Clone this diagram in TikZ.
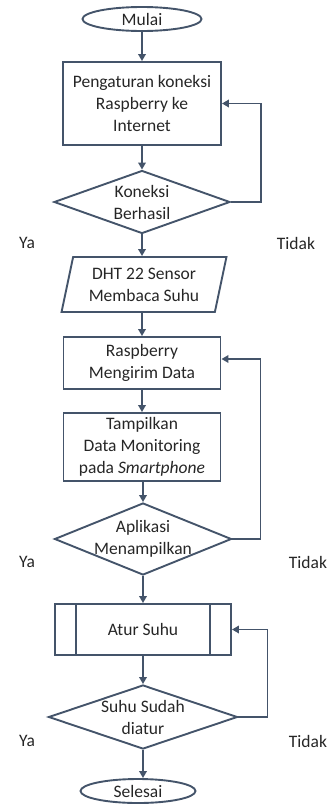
\documentclass[tikz,border=0pt]{standalone}
\usepackage{fontspec}
\setmainfont{Carlito}
\usetikzlibrary{shapes.geometric,arrows.meta}
\definecolor{lineblue}{RGB}{68,84,106}

\begin{document}
\begin{tikzpicture}[x=1pt,y=-1pt,
    every node/.style={font=\fontsize{17.5}{22}\selectfont, text=black!85},
    flow/.style={draw=lineblue, line width=1.9pt},
    box/.style={flow, rectangle, align=center, inner sep=0pt},
    term/.style={flow, ellipse, inner sep=0pt, minimum height=24pt},
    cond/.style={flow, diamond, inner sep=0pt},
    io/.style={flow, trapezium, trapezium left angle=76, trapezium right angle=104,
      trapezium stretches=true, align=center, inner sep=2pt},
    >={Triangle[length=7pt,width=7.5pt]}]
    \useasboundingbox (0,0) rectangle (329,806);
    \node[term, minimum width=119pt] (A) at (142,19) {Mulai};
    \node[box, minimum width=158pt, minimum height=83pt] (B) at (142,103.5) {Pengaturan koneksi\\Raspberry ke\\Internet};
    \node[cond, minimum width=176pt, minimum height=63pt, label={[align=center]center:Koneksi\\Berhasil}] (C) at (142,202) {};
    \node[io, minimum width=165pt, minimum height=55pt] (D) at (144,284.5) {DHT 22 Sensor\\Membaca Suhu};
    \node[box, minimum width=157pt, minimum height=52pt] (E) at (142,363) {Raspberry\\Mengirim Data};
    \node[box, minimum width=157pt, minimum height=68pt] (F) at (142,447) {Tampilkan\\Data Monitoring\\pada \textit{Smartphone}};
    \node[cond, minimum width=177pt, minimum height=72pt, label={[align=center]center:Aplikasi\\Menampilkan}] (G) at (143,539) {};
    \node[box, minimum width=176pt, minimum height=51pt] (H) at (143,629.5) {Atur Suhu};
    \node[cond, minimum width=189pt, minimum height=64pt, label={[align=center]center:Suhu Sudah\\diatur}] (I) at (143,717) {};
    \node[term, minimum width=115pt] (J) at (138,791) {Selesai};
    % sub-process bars
    \draw[flow] ([xshift=22pt]H.north west) -- ([xshift=22pt]H.south west);
    \draw[flow] ([xshift=-22pt]H.north east) -- ([xshift=-22pt]H.south east);
    % Ya / Tidak
    \node (Y1) at (27,243) {Ya};
    \node (T1) at (296,243) {Tidak};
    \node (Y2) at (27,562) {Ya};
    \node (T2) at (308,562) {Tidak};
    \node (Y3) at (27,741) {Ya};
    \node (T3) at (308,741) {Tidak};
    % main flow
    \draw[flow,->] (A) -- (B);
    \draw[flow,->] (B) -- (C);
    \draw[flow,->] (C.south) -- (C.south |- D.north);
    \draw[flow,->] (D.south -| E.north) -- (E);
    \draw[flow,->] (E) -- (F);
    \draw[flow,->] (F.south -| G.north) -- (G);
    \draw[flow,->] (G) -- (H);
    \draw[flow,->] (H) -- (I);
    \draw[flow,->] (I.south) -- (I.south |- J.north);
    % loops back
    \draw[flow,->] (C.east) -- ++(30,0) |- (B.east);
    \draw[flow,->] (G.east) -- ++(28,0) |- ([yshift=4pt]E.east);
    \draw[flow,->] (I.east) -- ++(29,0) |- (H.east);
\end{tikzpicture}
\end{document}
